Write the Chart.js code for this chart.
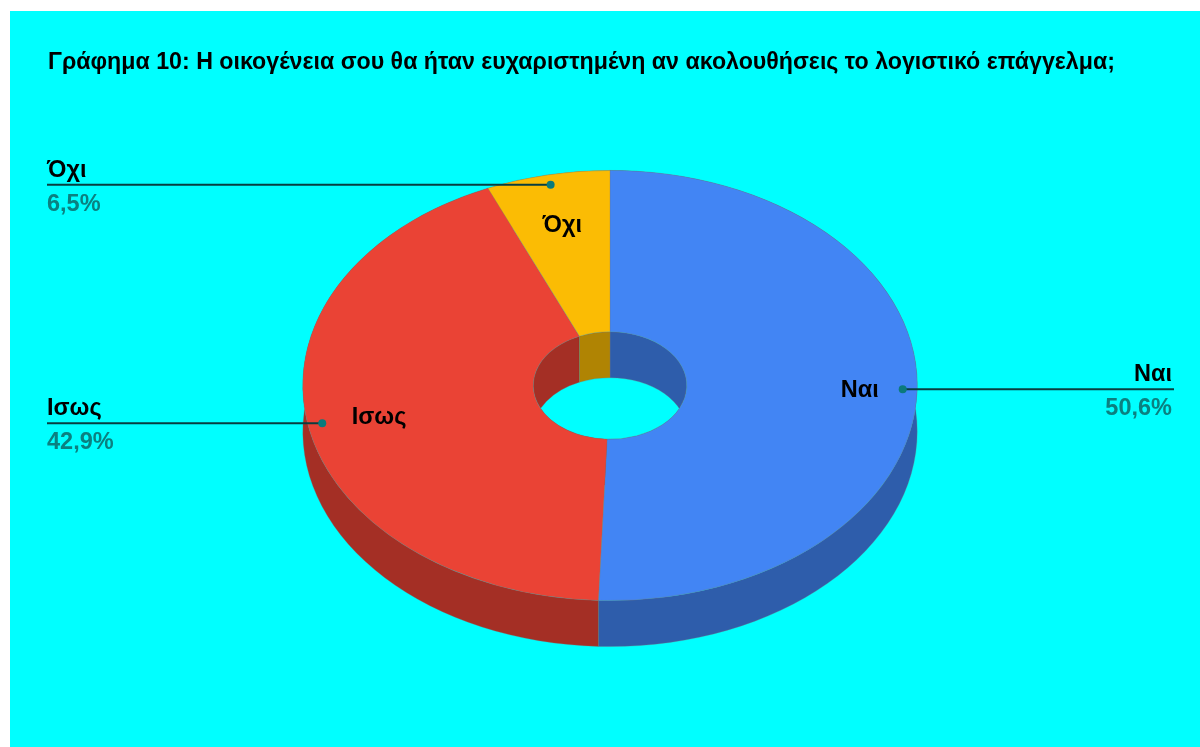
<!DOCTYPE html>
<html>
<head>
<meta charset="utf-8">
<title>Γράφημα 10</title>
<script src="https://cdn.jsdelivr.net/npm/chart.js@4/dist/chart.umd.min.js"></script>
<style>
  html, body { margin: 0; padding: 0; background: #fff; overflow: hidden; }
  #family_chart { display: block; }
</style>
</head>
<body>
<canvas id="family_chart" width="1200" height="747"></canvas>
<script>
const chartTitle = 'Γράφημα 10: Η οικογένεια σου θα ήταν ευχαριστημένη αν ακολουθήσεις το λογιστικό επάγγελμα;';
const categories = ['Ναι', 'Ισως', 'Όχι'];
const values = [50.6, 42.9, 6.5];
const sliceColors = ['#4285F4', '#EA4335', '#FBBC04'];
const sideColors = ['#2E5DAB', '#A42F25', '#B08403'];

const tilt = 0.7;        // vertical squash of the disc
const depth = 46;        // height of the side wall
const centerY = 385.5;   // where the disc centre lands on the page
const font = '"Liberation Sans", Arial, sans-serif';
const seamColor = 'rgba(120,120,120,0.5)';

// Position of a slice's callout dot / inner label, along its middle angle
function slicePoint(arc, fraction) {
  const p = arc.getProps(['x', 'startAngle', 'endAngle', 'outerRadius']);
  const mid = (p.startAngle + p.endAngle) / 2;
  return {
    x: p.x + Math.cos(mid) * p.outerRadius * fraction,
    y: centerY + Math.sin(mid) * p.outerRadius * fraction * tilt
  };
}

// Side wall of one arc edge: the edge at the bottom, joined to the edge at the top
function sweepEdge(ctx, p, radius, midY, color) {
  ctx.save();
  ctx.beginPath();
  ctx.setTransform(1, 0, 0, tilt, 0, centerY + depth - midY * tilt);
  ctx.arc(p.x, p.y, radius, p.startAngle, p.endAngle);
  ctx.setTransform(1, 0, 0, tilt, 0, centerY - midY * tilt);
  ctx.arc(p.x, p.y, radius, p.endAngle, p.startAngle, true);
  ctx.closePath();
  ctx.setTransform(1, 0, 0, 1, 0, 0);
  ctx.fillStyle = color;
  ctx.fill();
  ctx.strokeStyle = seamColor;
  ctx.lineWidth = 0.6;
  ctx.stroke();
  ctx.restore();
}

const pie3d = {
  id: 'pie3d',
  beforeDraw(chart) {
    const ctx = chart.ctx;
    ctx.save();
    ctx.fillStyle = '#00FFFF';
    ctx.fillRect(10, 11, 1190, 736);
    ctx.restore();
  },
  beforeDatasetsDraw(chart) {
    const ctx = chart.ctx;
    const arcs = chart.getDatasetMeta(0).data;
    const midY = arcs[0].y;
    arcs.forEach(function(arc, i) {
      const p = arc.getProps(['x', 'y', 'startAngle', 'endAngle', 'innerRadius', 'outerRadius']);
      sweepEdge(ctx, p, p.outerRadius, midY, sideColors[i]);
      sweepEdge(ctx, p, p.innerRadius, midY, sideColors[i]);
    });
    // the library then draws the top face inside this transform
    ctx.save();
    ctx.translate(0, centerY);
    ctx.scale(1, tilt);
    ctx.translate(0, -midY);
  },
  afterDatasetsDraw(chart) {
    chart.ctx.restore();
  },
  afterDraw(chart) {
    const ctx = chart.ctx;
    const arcs = chart.getDatasetMeta(0).data;
    ctx.save();
    ctx.textBaseline = 'alphabetic';
    ctx.fillStyle = '#000';
    ctx.font = 'bold 23.2px ' + font;
    ctx.textAlign = 'left';
    ctx.fillText(chartTitle, 48, 69);

    const innerFractions = [0.813, 0.765, 0.765];
    const calloutEdge = [1174, 47, 47];
    ctx.font = 'bold 23.5px ' + font;
    arcs.forEach(function(arc, i) {
      const dot = slicePoint(arc, 0.953);
      const inner = slicePoint(arc, innerFractions[i]);
      const onRight = calloutEdge[i] > dot.x;

      ctx.fillStyle = '#000';
      ctx.textAlign = 'center';
      ctx.textBaseline = 'middle';
      ctx.fillText(categories[i], inner.x, inner.y + 1.5);

      ctx.strokeStyle = '#083E40';
      ctx.lineWidth = 2;
      ctx.beginPath();
      ctx.moveTo(dot.x, dot.y);
      ctx.lineTo(calloutEdge[i], dot.y);
      ctx.stroke();
      ctx.fillStyle = '#0B7A7C';
      ctx.beginPath();
      ctx.arc(dot.x, dot.y, 4, 0, Math.PI * 2);
      ctx.fill();

      ctx.textAlign = onRight ? 'right' : 'left';
      ctx.textBaseline = 'alphabetic';
      const textX = onRight ? calloutEdge[i] - 2 : calloutEdge[i];
      ctx.fillStyle = '#000';
      ctx.fillText(categories[i], textX, dot.y - 8);
      ctx.fillStyle = '#0B8080';
      ctx.fillText(values[i].toFixed(1).replace('.', ',') + '%', textX, dot.y + 26);
    });
    ctx.restore();
  }
};

new Chart(document.querySelector('#family_chart'), {
  type: 'doughnut',
  data: {
    labels: categories,
    datasets: [{
      data: values,
      backgroundColor: sliceColors,
      borderColor: seamColor,
      borderWidth: 0.6,
      clip: false
    }]
  },
  options: {
    responsive: false,
    animation: false,
    cutout: '25%',
    layout: { padding: { left: 302.5, right: 282.5, top: 65.5, bottom: 66.5 } },
    plugins: {
      legend: { display: false },
      tooltip: { enabled: false }
    }
  },
  plugins: [pie3d]
});
</script>
</body>
</html>
